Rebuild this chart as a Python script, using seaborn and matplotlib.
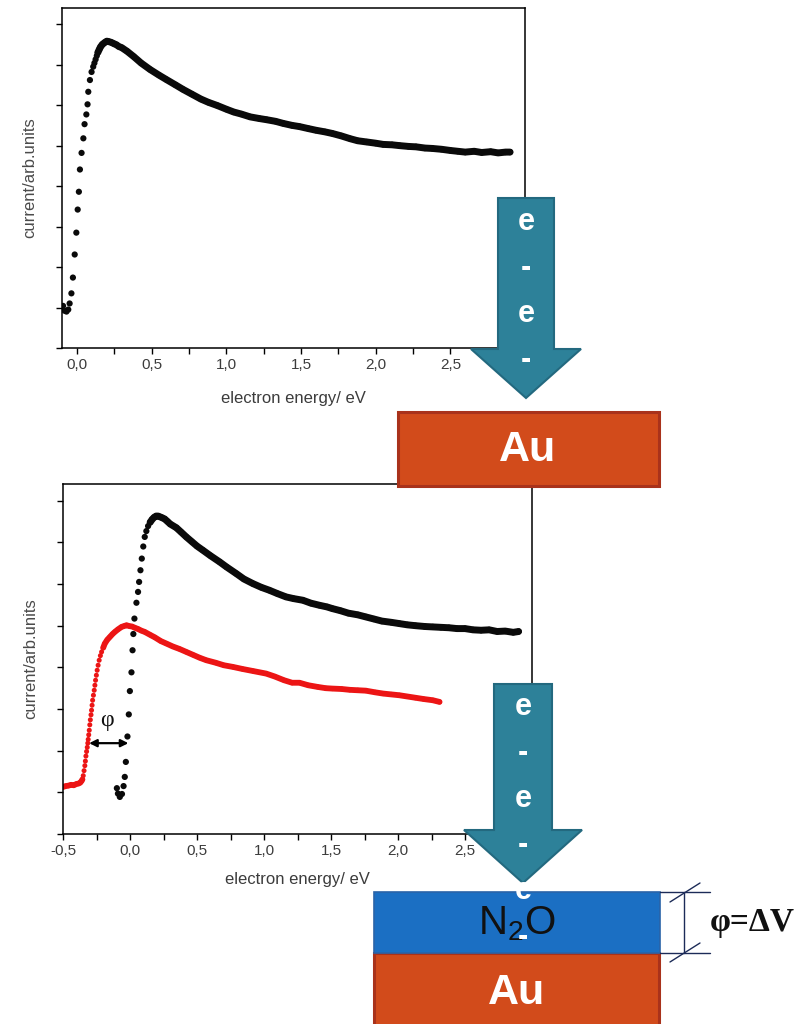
import numpy as np
import pandas as pd
import matplotlib
matplotlib.use("Agg")
import matplotlib.pyplot as plt
from matplotlib.patches import Polygon, Rectangle
from matplotlib.ticker import MultipleLocator, FuncFormatter, NullFormatter
import seaborn as sns

# ---------------------------------------------------------------- data
# Clean Au surface: transmitted current vs. electron energy
top_energy = [-0.093, -0.082, -0.070, -0.058, -0.049, -0.037, -0.027, -0.015, -0.004,
              0.005, 0.013, 0.020, 0.031, 0.043, 0.051, 0.063, 0.071, 0.076, 0.087,
              0.098, 0.109, 0.117, 0.125, 0.133, 0.140, 0.150, 0.158, 0.170, 0.187,
              0.200, 0.213, 0.230, 0.247, 0.265, 0.280, 0.300, 0.336, 0.380, 0.430,
              0.490, 0.550, 0.600, 0.660, 0.710, 0.770, 0.830, 0.880, 0.940, 1.000,
              1.050, 1.100, 1.160, 1.220, 1.270, 1.330, 1.380, 1.440, 1.490, 1.550,
              1.600, 1.660, 1.710, 1.770, 1.830, 1.880, 1.940, 2.000, 2.050, 2.110,
              2.160, 2.220, 2.270, 2.330, 2.380, 2.440, 2.500, 2.550, 2.600, 2.660,
              2.710, 2.770, 2.820, 2.870, 2.900]
top_current = [1.04, 0.92, 0.90, 0.95, 1.10, 1.35, 1.74, 2.31, 2.85,
               3.42, 3.86, 4.41, 4.82, 5.18, 5.53, 5.77, 6.02, 6.33, 6.62,
               6.82, 6.95, 7.04, 7.13, 7.22, 7.30, 7.38, 7.44, 7.50, 7.55,
               7.58, 7.57, 7.55, 7.52, 7.49, 7.45, 7.42, 7.33, 7.20, 7.04,
               6.88, 6.74, 6.63, 6.50, 6.39, 6.27, 6.15, 6.07, 5.99, 5.90,
               5.83, 5.78, 5.71, 5.67, 5.64, 5.60, 5.55, 5.50, 5.47, 5.42,
               5.38, 5.34, 5.30, 5.24, 5.17, 5.12, 5.09, 5.06, 5.03, 5.02,
               5.00, 4.98, 4.97, 4.94, 4.93, 4.91, 4.88, 4.86, 4.84, 4.86,
               4.83, 4.85, 4.82, 4.84, 4.84]

# Au reference curve in the lower panel
bot_au_energy = [-0.098, -0.090, -0.076, -0.060, -0.048, -0.039, -0.031, -0.019, -0.009,
                 -0.001, 0.011, 0.019, 0.025, 0.033, 0.048, 0.060, 0.068, 0.078, 0.088,
                 0.099, 0.110, 0.122, 0.135, 0.150, 0.165, 0.180, 0.195, 0.210, 0.225,
                 0.240, 0.259, 0.280, 0.300, 0.346, 0.380, 0.420, 0.460, 0.500, 0.544,
                 0.600, 0.669, 0.720, 0.793, 0.850, 0.917, 0.980, 1.040, 1.100, 1.165,
                 1.220, 1.290, 1.350, 1.413, 1.470, 1.510, 1.570, 1.630, 1.700, 1.760,
                 1.820, 1.880, 1.950, 2.010, 2.070, 2.130, 2.200, 2.260, 2.320, 2.380,
                 2.440, 2.500, 2.560, 2.620, 2.680, 2.740, 2.800, 2.860, 2.900]
bot_au_current = [1.10, 0.97, 0.89, 0.96, 1.15, 1.37, 1.73, 2.34, 2.87,
                  3.43, 3.88, 4.41, 4.80, 5.17, 5.55, 5.81, 6.05, 6.33, 6.61,
                  6.90, 7.13, 7.27, 7.39, 7.48, 7.55, 7.60, 7.63, 7.63, 7.61,
                  7.59, 7.56, 7.50, 7.44, 7.35, 7.25, 7.13, 7.02, 6.91, 6.81,
                  6.68, 6.53, 6.41, 6.25, 6.12, 6.01, 5.92, 5.85, 5.77, 5.69,
                  5.65, 5.61, 5.54, 5.49, 5.45, 5.41, 5.36, 5.30, 5.26, 5.21,
                  5.16, 5.11, 5.08, 5.05, 5.02, 5.00, 4.98, 4.97, 4.96, 4.95,
                  4.93, 4.93, 4.90, 4.89, 4.90, 4.86, 4.87, 4.84, 4.86]

# N2O-covered Au curve in the lower panel
bot_n2o_energy = [-0.500, -0.480, -0.460, -0.440, -0.420, -0.400, -0.385, -0.372, -0.362,
                  -0.355, -0.349, -0.343, -0.337, -0.333, -0.329, -0.324, -0.319, -0.315,
                  -0.312, -0.308, -0.304, -0.300, -0.296, -0.291, -0.287, -0.283, -0.279,
                  -0.273, -0.267, -0.262, -0.257, -0.251, -0.245, -0.238, -0.230, -0.221,
                  -0.212, -0.200, -0.188, -0.170, -0.150, -0.130, -0.113, -0.090, -0.063,
                  -0.045, -0.026, -0.005, 0.015, 0.036, 0.060, 0.085, 0.110, 0.150,
                  0.185, 0.230, 0.272, 0.320, 0.370, 0.420, 0.470, 0.520, 0.570,
                  0.640, 0.700, 0.768, 0.840, 0.920, 1.016, 1.080, 1.150, 1.210,
                  1.265, 1.330, 1.400, 1.460, 1.510, 1.580, 1.640, 1.700, 1.760,
                  1.830, 1.890, 1.950, 2.010, 2.070, 2.130, 2.190, 2.260, 2.310]
bot_n2o_current = [1.13, 1.15, 1.16, 1.18, 1.17, 1.20, 1.21, 1.23, 1.27,
                   1.31, 1.40, 1.52, 1.64, 1.75, 1.87, 1.98, 2.08, 2.18,
                   2.27, 2.38, 2.49, 2.62, 2.74, 2.86, 2.97, 3.09, 3.21,
                   3.33, 3.45, 3.57, 3.69, 3.81, 3.93, 4.05, 4.17, 4.28,
                   4.37, 4.47, 4.57, 4.66, 4.73, 4.80, 4.85, 4.91, 4.97,
                   4.99, 5.01, 4.99, 4.98, 4.95, 4.92, 4.88, 4.85, 4.78,
                   4.72, 4.63, 4.57, 4.50, 4.44, 4.37, 4.30, 4.23, 4.17,
                   4.11, 4.05, 4.01, 3.96, 3.91, 3.85, 3.78, 3.69, 3.63,
                   3.63, 3.57, 3.53, 3.50, 3.49, 3.48, 3.46, 3.45, 3.44,
                   3.40, 3.37, 3.35, 3.33, 3.30, 3.27, 3.24, 3.21, 3.17]

tick_values_y = [0, 1, 2, 3, 4, 5, 6, 7, 8]

# ---------------------------------------------------------------- style
sns.set_style("ticks")
plt.rcParams["font.family"] = ["Liberation Sans", "DejaVu Sans"]
plt.rcParams["mathtext.fontset"] = "custom"
plt.rcParams["mathtext.rm"] = "Liberation Sans"

BLACK = "#0a0a0a"
RED = "#ec1515"
LABEL_GREY = "#3c3c3c"

W, H = 806, 1024
fig = plt.figure(figsize=(W / 100, H / 100), dpi=100)
fig.patch.set_facecolor("white")


def px_axes(left, top, right, bottom):
    return [left / W, 1 - bottom / H, (right - left) / W, (bottom - top) / H]


ax_top = fig.add_axes(px_axes(62, 8, 525, 348))
ax_bot = fig.add_axes(px_axes(63, 484, 532, 834))


def comma_fmt(v, _pos):
    if abs(v) < 1e-9:
        v = 0.0
    if v > 2.9:  # last label sits under the electron-beam arrow
        return ""
    return f"{v:.1f}".replace(".", ",")


def style_axes(ax, xmin, xmax, xlabelpad):
    ax.set_xlim(xmin, xmax)
    ax.set_ylim(0, 8.4)
    ax.xaxis.set_major_locator(MultipleLocator(0.5))
    ax.xaxis.set_minor_locator(MultipleLocator(0.25))
    ax.set_yticks(tick_values_y)
    ax.yaxis.set_major_formatter(NullFormatter())
    ax.xaxis.set_major_formatter(FuncFormatter(comma_fmt))
    ax.tick_params(which="both", direction="out", length=4, width=1.0,
                   color="black", labelsize=11, labelcolor=LABEL_GREY, pad=3)
    for s in ax.spines.values():
        s.set_linewidth(1.1)
        s.set_color("black")
        s.set_visible(True)
    ax.set_xlabel("electron energy/ eV", fontsize=12, color=LABEL_GREY, labelpad=xlabelpad)
    ax.set_ylabel("current/arb.units", fontsize=12, color="#4a4a4a", labelpad=11)
    ax.set_facecolor("white")


def draw_curve(ax, energy, current, color, band_mask, msize, band_lw):
    df = pd.DataFrame({"energy": energy, "current": current})
    # dense stretches of the measurement read as a continuous thick band
    groups = (band_mask != np.roll(band_mask, 1)).cumsum()
    for g in np.unique(groups[band_mask]):
        seg = df[(groups == g) & band_mask]
        sns.lineplot(data=seg, x="energy", y="current", ax=ax, color=color,
                     linewidth=band_lw, sort=True, estimator=None,
                     solid_capstyle="round", solid_joinstyle="round")
    sns.scatterplot(data=df, x="energy", y="current", ax=ax, color=color,
                    s=msize, linewidth=0, edgecolor="none")


te = np.array(top_energy)
draw_curve(ax_top, top_energy, top_current, BLACK, te >= 0.14, 20, 5.0)
style_axes(ax_top, -0.1, 3.0, 14)

be = np.array(bot_au_energy)
draw_curve(ax_bot, bot_au_energy, bot_au_current, BLACK, be >= 0.14, 20, 5.0)
re_ = np.array(bot_n2o_energy)
draw_curve(ax_bot, bot_n2o_energy, bot_n2o_current, RED,
           (re_ <= -0.355) | (re_ >= -0.20), 13, 4.2)
style_axes(ax_bot, -0.5, 3.0, 10)

# onset shift between the two curves
ax_bot.annotate("", xy=(-0.305, 2.18), xytext=(-0.012, 2.18),
                arrowprops=dict(arrowstyle="<|-|>", color="black", lw=1.6,
                                mutation_scale=11, shrinkA=0, shrinkB=0))
ax_bot.text(-0.17, 2.73, "φ", fontsize=17, family=["Liberation Serif", "DejaVu Serif"],
            ha="center", va="center", color="#111111")

# ---------------------------------------------------------------- schematic layer
ov = fig.add_axes([0, 0, 1, 1], zorder=5)
ov.set_xlim(0, W)
ov.set_ylim(H, 0)
ov.axis("off")
ov.patch.set_alpha(0)

TEAL = "#2d8199"
TEAL_EDGE = "#23697f"
AU_FILL = "#d24b1b"
AU_EDGE = "#a9321b"
N2O_FILL = "#1b6fc3"


def down_arrow(x0, x1, top, neck, hx0, hx1, tip):
    cx = (x0 + x1) / 2
    pts = [(x0, top), (x1, top), (x1, neck), (hx1, neck), (cx, tip), (hx0, neck), (x0, neck)]
    ov.add_patch(Polygon(pts, closed=True, facecolor=TEAL, edgecolor=TEAL_EDGE,
                         linewidth=1.5, zorder=1))
    return cx


def electron_column(cx, y0, n):
    chars = ["e", "-"]
    for i in range(n):
        ov.text(cx, y0 + 46 * i, chars[i % 2], color="white", fontsize=22,
                fontweight="bold", ha="center", va="center", zorder=6)


# upper scheme: electrons onto bare gold
cx1 = down_arrow(498, 554, 198, 349, 471, 581, 398)
ov.add_patch(Rectangle((398, 412), 261, 74, facecolor=AU_FILL, edgecolor=AU_EDGE,
                       linewidth=2.2, zorder=3))
electron_column(cx1, 222, 4)
ov.text(528, 450, "Au", color="white", fontsize=31, fontweight="bold",
        ha="center", va="center", zorder=7)

# lower scheme: electrons onto N2O film on gold
cx2 = down_arrow(494, 552, 684, 830, 464, 582, 883)
ov.add_patch(Rectangle((374, 953), 285, 80, facecolor=AU_FILL, edgecolor=AU_EDGE,
                       linewidth=2.2, zorder=3))
ov.add_patch(Rectangle((374, 892), 286, 61, facecolor=N2O_FILL, edgecolor="#2a63a8",
                       linewidth=1.2, zorder=4))
electron_column(cx2, 707, 4)
# the tail of the electron column runs into the film
ov.text(cx2, 891, "e", color="white", fontsize=22, fontweight="bold",
        ha="center", va="center", zorder=6, clip_on=True)
ov.text(517, 924, r"N$_\mathregular{2}$O", color="#111111", fontsize=29,
        ha="center", va="center", zorder=7)
ov.text(cx2, 937, "-", color="white", fontsize=22, fontweight="bold",
        ha="center", va="center", zorder=8)
ov.text(517, 993, "Au", color="white", fontsize=31, fontweight="bold",
        ha="center", va="center", zorder=7)

# film thickness marker
DIM = "#1c2b58"
ov.plot([660, 710], [892, 892], color=DIM, lw=1.0, zorder=5)
ov.plot([660, 710], [953, 953], color=DIM, lw=1.0, zorder=5)
ov.plot([684, 684], [892, 953], color=DIM, lw=1.0, zorder=5)
ov.plot([670, 700], [902, 883], color=DIM, lw=1.0, zorder=5)
ov.plot([670, 700], [962, 943], color=DIM, lw=1.0, zorder=5)
ov.text(752, 922, "φ=ΔV", fontsize=24, fontweight="bold",
        family=["Liberation Serif", "DejaVu Serif"], ha="center", va="center",
        color="#111111", zorder=7)

fig.savefig("out.png", dpi=100, facecolor="white")
